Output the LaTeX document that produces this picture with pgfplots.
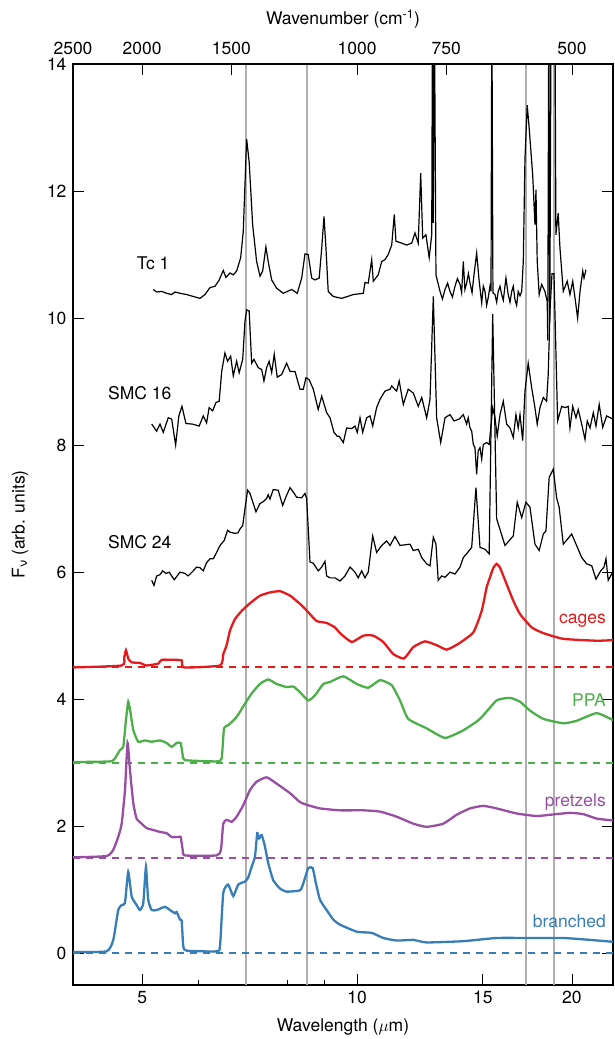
\documentclass[border=0pt]{standalone}
\usepackage{fontspec}
\setmainfont{TeX Gyre Heros}
\usepackage{pgfplots}
\pgfplotsset{compat=1.18}
\definecolor{cred}{RGB}{228,26,28}
\definecolor{cgreen}{RGB}{77,175,74}
\definecolor{cpurple}{RGB}{152,78,163}
\definecolor{cblue}{RGB}{55,126,184}
\definecolor{cgray}{RGB}{175,175,175}
\begin{document}
\begin{tikzpicture}[font=\fontsize{17.5}{21}\selectfont]
\begin{axis}[name=main, at={(0,0)}, anchor=south west,
  scale only axis, width=540pt, height=921pt,
  xmode=log, xmin=4, xmax=22.83, ymin=-0.5, ymax=14,
  xtick={5,10,15,20}, xticklabels={5,10,15,20}, minor xtick={6,7,8,9},
  xtick pos=left, ytick={0,2,4,6,8,10,12,14}, ytick pos=both, yticklabel pos=left,
  tick align=inside, major tick length=11pt, minor tick length=5pt,
  tick style={black, line width=0.9pt},
  axis line style={line width=1.1pt},
  /pgf/number format/assume math mode=true,
  xticklabel style={yshift=-3pt}, yticklabel style={xshift=-3pt},
  xlabel={Wavelength ($\mu$m)},
  ylabel={F\textsubscript{ν} (arb. units)},
  xlabel style={at={([yshift=-42pt]axis description cs:0.5,0)}, anchor=center},
  ylabel style={at={([xshift=-53pt]axis description cs:0,0.5)}, anchor=center},
  clip=true]
% grey C60 lines
\addplot[cgray, line width=2pt] coordinates {(7.0,-0.5) (7.0,14)};
\addplot[cgray, line width=2pt] coordinates {(8.5,-0.5) (8.5,14)};
\addplot[cgray, line width=2pt] coordinates {(17.25,-0.5) (17.25,14)};
\addplot[cgray, line width=2pt] coordinates {(18.85,-0.5) (18.85,14)};
% baselines
\addplot[cred, line width=2pt, dash pattern=on 7pt off 6pt] coordinates {(4,4.5) (22.83,4.5)};
\addplot[cgreen, line width=2pt, dash pattern=on 7pt off 6pt] coordinates {(4,3) (22.83,3)};
\addplot[cpurple, line width=2pt, dash pattern=on 7pt off 6pt] coordinates {(4,1.5) (22.83,1.5)};
\addplot[cblue, line width=2pt, dash pattern=on 7pt off 6pt] coordinates {(4,0) (22.83,0)};
% branched
\addplot[cblue, line width=2.3pt, smooth, tension=0.3] coordinates {
(4.000,0.02) (4.458,0.03) (4.555,0.21) (4.628,0.68) (4.680,0.76) (4.730,0.79) (4.780,1.28) (4.834,0.89) (4.911,0.76) (4.965,0.68) (5.018,0.79) (5.061,1.36) (5.098,0.84) (5.156,0.68) (5.239,0.68) (5.381,0.73) (5.469,0.68) (5.558,0.63) (5.588,0.65) (5.649,0.53) (5.680,0.51) (5.709,0.11) (5.771,0.04) (6.357,0.03) (6.427,0.11) (6.495,0.95) (6.599,1.08) (6.708,0.90) (6.815,1.08) (6.966,1.13) (7.039,1.19) (7.118,1.36) (7.194,1.52) (7.247,1.89) (7.292,1.81) (7.352,1.86) (7.430,1.68) (7.508,1.42) (7.632,1.15) (7.799,1.02) (7.968,0.97) (8.319,0.99) (8.407,1.10) (8.542,1.34) (8.666,1.34) (8.758,1.10) (8.873,0.84) (9.065,0.68) (9.261,0.53) (9.464,0.45) (9.986,0.34) (10.483,0.32) (10.882,0.24) (11.361,0.20) (11.988,0.21) (12.516,0.17) (14.086,0.19) (15.686,0.24) (17.468,0.24) (19.448,0.24) (21.198,0.21) (22.83,0.18)};
% pretzels
\addplot[cpurple, line width=2.3pt, smooth, tension=0.3] coordinates {
(4.000,1.51) (4.458,1.53) (4.555,1.63) (4.628,1.83) (4.680,2.04) (4.730,2.57) (4.770,3.31) (4.807,2.88) (4.859,2.36) (4.911,2.12) (4.992,2.04) (5.072,1.97) (5.182,1.94) (5.296,1.91) (5.410,1.89) (5.499,1.83) (5.616,1.83) (5.661,1.83) (5.698,1.63) (5.740,1.54) (6.357,1.54) (6.447,1.63) (6.495,2.04) (6.566,2.10) (6.674,2.07) (6.781,2.15) (6.928,2.33) (7.080,2.57) (7.233,2.70) (7.470,2.77) (7.715,2.67) (8.055,2.52) (8.319,2.38) (8.542,2.33) (8.873,2.28) (9.464,2.25) (10.203,2.25) (10.768,2.23) (11.361,2.15) (11.988,2.04) (12.516,1.99) (13.206,2.04) (13.787,2.18) (14.395,2.28) (15.025,2.32) (15.686,2.28) (16.731,2.20) (17.846,2.16) (18.632,2.18) (19.874,2.21) (20.744,2.19) (21.657,2.12) (22.83,2.09)};
% PPA
\addplot[cgreen, line width=2.3pt, smooth, tension=0.3] coordinates {
(4.000,3.01) (4.507,3.02) (4.580,3.07) (4.655,3.20) (4.704,3.25) (4.740,3.62) (4.780,3.96) (4.818,3.77) (4.859,3.51) (4.936,3.33) (5.045,3.35) (5.156,3.33) (5.296,3.35) (5.410,3.31) (5.499,3.25) (5.588,3.31) (5.661,3.31) (5.698,3.12) (5.740,3.04) (6.357,3.02) (6.462,3.07) (6.510,3.54) (6.599,3.59) (6.781,3.72) (6.966,3.93) (7.118,4.09) (7.312,4.24) (7.508,4.31) (7.715,4.24) (7.968,4.19) (8.140,4.20) (8.319,4.11) (8.542,3.98) (8.730,4.06) (8.968,4.24) (9.164,4.27) (9.565,4.36) (9.986,4.24) (10.366,4.18) (10.768,4.30) (11.182,4.22) (11.485,3.98) (11.793,3.69) (12.516,3.54) (13.278,3.39) (14.086,3.51) (14.866,3.69) (15.686,3.98) (16.377,4.02) (16.914,3.96) (17.468,3.82) (18.233,3.69) (19.448,3.62) (20.304,3.66) (21.657,3.78) (22.83,3.67)};
% cages
\addplot[cred, line width=2.3pt, smooth, tension=0.3] coordinates {
(4.000,4.50) (4.680,4.53) (4.719,4.66) (4.745,4.77) (4.780,4.64) (4.834,4.58) (4.965,4.57) (5.072,4.53) (5.265,4.56) (5.325,4.62) (5.528,4.62) (5.680,4.61) (5.722,4.50) (6.427,4.53) (6.495,4.71) (6.566,4.85) (6.637,5.08) (6.745,5.26) (6.893,5.39) (7.080,5.51) (7.312,5.63) (7.551,5.68) (7.799,5.70) (8.055,5.63) (8.319,5.50) (8.542,5.37) (8.777,5.23) (9.065,5.20) (9.312,5.13) (9.464,5.04) (9.828,4.90) (10.203,5.00) (10.537,5.00) (10.882,4.90) (11.239,4.71) (11.634,4.64) (11.988,4.82) (12.448,4.91) (12.926,4.85) (13.350,4.78) (13.857,4.87) (14.548,5.05) (14.948,5.39) (15.188,5.76) (15.354,5.92) (15.524,6.07) (15.686,6.13) (15.857,6.07) (16.200,5.81) (16.551,5.55) (16.914,5.34) (17.564,5.13) (18.233,5.04) (19.448,4.95) (21.657,4.92) (22.83,4.93)};
% SMC 24
\addplot[black, line width=1.2pt] coordinates {
(5.156,5.87) (5.194,5.79) (5.239,5.94) (5.296,5.96) (5.342,6.02) (5.398,5.98) (5.455,6.00) (5.499,5.94) (5.545,5.88) (5.649,6.00) (5.740,5.98) (5.800,5.94) (5.896,6.02) (5.960,6.08) (6.025,6.07) (6.089,6.02) (6.155,6.15) (6.223,6.21) (6.289,6.21) (6.357,6.31) (6.427,6.42) (6.516,6.50) (6.586,6.66) (6.637,6.63) (6.745,6.61) (6.815,6.62) (6.855,6.68) (6.915,6.73) (6.966,7.00) (7.025,7.29) (7.080,7.24) (7.155,7.08) (7.217,6.95) (7.312,7.08) (7.390,7.11) (7.470,7.16) (7.508,7.22) (7.551,7.15) (7.632,7.30) (7.754,7.29) (7.867,7.05) (7.968,7.21) (8.055,7.33) (8.140,7.26) (8.229,7.18) (8.364,7.17) (8.453,7.24) (8.499,7.16) (8.591,6.16) (8.683,6.14) (8.822,6.02) (8.922,6.08) (9.016,6.17) (9.065,5.94) (9.164,5.91) (9.312,5.91) (9.464,5.86) (9.617,5.94) (9.775,6.08) (9.932,6.00) (10.037,5.91) (10.150,6.02) (10.258,5.91) (10.366,6.00) (10.517,6.57) (10.651,6.31) (10.827,6.42) (11.001,6.49) (11.121,6.42) (11.300,6.56) (11.485,6.42) (11.671,6.43) (11.862,6.44) (11.988,6.34) (12.180,6.36) (12.318,6.23) (12.516,6.13) (12.652,6.10) (12.787,6.55) (12.897,6.44) (12.991,5.87) (13.139,5.94) (13.278,5.92) (13.495,6.00) (13.713,5.97) (13.938,6.08) (14.086,6.23) (14.239,6.29) (14.474,6.39) (14.673,7.33) (14.866,6.39) (15.107,6.36) (15.313,6.29) (15.488,10.06) (15.686,6.84) (16.113,6.42) (16.551,6.57) (16.763,7.10) (17.007,6.86) (17.242,7.10) (17.468,7.02) (17.750,6.44) (17.993,6.34) (18.233,6.60) (18.391,6.65) (18.583,7.49) (18.831,7.62) (19.036,7.17) (19.192,7.02) (19.448,6.44) (19.983,6.60) (20.638,6.23) (20.970,6.13) (21.315,6.10) (21.609,5.89) (21.943,6.02) (22.176,6.08) (22.318,6.21) (22.480,5.87) (22.808,6.00)};
% SMC 16
\addplot[black, line width=1.2pt] coordinates {
(5.156,8.33) (5.239,8.22) (5.296,8.33) (5.352,8.20) (5.438,8.43) (5.499,8.41) (5.570,8.00) (5.628,8.46) (5.685,8.61) (5.758,8.34) (5.885,8.33) (6.009,8.30) (6.089,8.46) (6.155,8.35) (6.206,8.59) (6.277,8.54) (6.343,8.67) (6.410,8.69) (6.462,9.16) (6.530,9.45) (6.586,9.32) (6.652,9.40) (6.708,9.09) (6.781,9.32) (6.837,9.14) (6.915,9.35) (6.966,9.95) (7.003,10.13) (7.061,10.11) (7.118,9.29) (7.171,9.35) (7.269,9.22) (7.352,9.19) (7.406,9.01) (7.470,9.22) (7.531,9.32) (7.593,9.14) (7.656,9.43) (7.729,9.07) (7.842,9.11) (7.968,9.29) (8.055,9.16) (8.185,9.16) (8.319,8.88) (8.407,8.88) (8.480,9.06) (8.568,9.03) (8.683,8.88) (8.822,8.56) (8.922,8.77) (9.065,8.51) (9.164,8.43) (9.282,8.20) (9.380,8.14) (9.439,8.14) (9.565,8.04) (9.669,8.27) (9.828,8.26) (9.932,8.30) (10.005,8.20) (10.095,8.43) (10.183,8.20) (10.313,8.43) (10.426,8.46) (10.517,8.30) (10.651,8.59) (10.768,8.72) (10.941,8.85) (11.121,8.88) (11.182,8.93) (11.361,8.85) (11.455,9.01) (11.608,8.64) (11.793,8.88) (11.988,8.82) (12.180,8.61) (12.318,8.75) (12.516,8.43) (12.652,8.72) (12.787,10.34) (12.926,8.43) (13.096,8.04) (13.278,8.43) (13.495,8.48) (13.670,8.38) (13.901,8.41) (14.086,8.48) (14.239,8.33) (14.311,8.43) (14.395,8.27) (14.474,8.22) (14.548,8.01) (14.627,7.96) (14.706,7.54) (14.780,7.91) (14.866,7.96) (14.948,7.78) (15.025,8.01) (15.188,8.04) (15.313,8.01) (15.488,8.59) (15.602,8.43) (15.716,8.14) (15.857,8.48) (16.026,8.69) (16.200,8.33) (16.377,8.27) (16.551,8.12) (16.694,8.48) (16.816,8.27) (16.914,8.48) (17.061,8.07) (17.187,8.85) (17.367,9.29) (17.564,8.90) (17.750,8.59) (17.880,8.33) (18.041,8.59) (18.233,8.75) (18.431,8.69) (18.525,9.11) (18.632,10.11) (18.753,10.7) (18.873,10.7) (19.096,8.38) (19.349,8.61) (19.554,8.59) (19.759,8.61) (19.874,8.27) (20.047,8.61) (20.259,8.43) (20.407,8.56) (20.638,8.33) (20.857,8.09) (21.010,8.38) (21.198,8.27) (21.424,8.51) (21.609,8.30) (21.835,8.64) (22.084,8.28) (22.367,8.46) (22.808,8.41)};
% Tc 1
\addplot[black, line width=1.2pt] coordinates {
(5.182,10.45) (5.239,10.41) (5.325,10.42) (5.410,10.39) (5.499,10.37) (5.558,10.41) (5.649,10.39) (5.771,10.37) (5.896,10.34) (6.025,10.31) (6.122,10.37) (6.223,10.48) (6.323,10.50) (6.410,10.60) (6.495,10.75) (6.551,10.64) (6.637,10.71) (6.708,10.68) (6.781,10.74) (6.870,10.95) (6.928,11.36) (7.003,12.82) (7.061,12.46) (7.141,11.47) (7.233,10.89) (7.312,10.66) (7.375,10.74) (7.453,11.12) (7.508,10.89) (7.593,10.60) (7.715,10.47) (7.882,10.39) (8.099,10.45) (8.245,10.39) (8.364,10.63) (8.453,11.01) (8.542,11.00) (8.638,10.63) (8.730,10.60) (8.849,10.63) (8.922,11.10) (8.988,11.60) (9.045,11.10) (9.111,10.42) (9.261,10.34) (9.516,10.31) (9.879,10.37) (10.203,10.39) (10.258,10.56) (10.366,10.55) (10.483,10.92) (10.537,10.58) (10.705,10.68) (10.827,10.89) (10.941,10.92) (11.056,11.00) (11.182,11.15) (11.275,11.63) (11.336,11.21) (11.548,11.18) (11.734,11.15) (11.927,11.18) (12.053,11.34) (12.180,11.18) (12.278,12.28) (12.357,11.26) (12.488,11.31) (12.618,10.95) (12.722,11.31) (12.755,15) (12.785,11.5) (12.83,15) (12.897,10.68) (13.067,10.42) (13.17,10.30) (13.278,10.45) (13.39,10.55) (13.495,10.42) (13.60,10.33) (13.713,10.50) (13.82,10.62) (13.938,10.53) (14.01,10.40) (14.086,10.89) (14.16,10.45) (14.239,10.55) (14.32,10.70) (14.395,10.55) (14.49,10.40) (14.580,10.68) (14.706,11.02) (14.827,10.58) (14.948,10.24) (15.025,10.50) (15.107,10.42) (15.188,10.20) (15.265,10.32) (15.354,10.50) (15.403,10.42) (15.445,15) (15.50,10.40) (15.602,10.37) (15.686,10.25) (15.765,10.42) (15.857,10.50) (15.944,10.37) (16.026,10.28) (16.164,10.63) (16.282,10.37) (16.377,10.25) (16.467,10.42) (16.551,10.50) (16.641,10.29) (16.731,10.20) (16.816,10.42) (16.914,10.35) (17.007,10.42) (17.094,10.89) (17.187,12.51) (17.313,13.35) (17.422,12.99) (17.621,12.25) (17.750,11.47) (17.807,12.02) (17.880,10.89) (17.993,10.37) (18.140,10.53) (18.332,10.42) (18.466,10.26) (18.50,9.65) (18.56,15) (18.62,9.95) (18.70,15) (18.93,15) (18.99,11.31) (19.132,11.65) (19.243,11.10) (19.448,10.42) (19.697,10.58) (19.874,10.37) (20.047,10.58) (20.195,10.32) (20.368,10.00) (20.526,10.42) (20.705,10.74) (20.791,10.63) (20.923,10.76)};
% labels
\node at (axis cs:5.18,10.86) {Tc 1};
\node at (axis cs:4.96,8.82) {SMC 16};
\node at (axis cs:4.96,6.48) {SMC 24};
\node[anchor=east, text=cred] at (axis cs:22.56,5.24) {cages};
\node[anchor=east, text=cgreen] at (axis cs:22.56,3.98) {PPA};
\node[anchor=east, text=cpurple] at (axis cs:22.56,2.38) {pretzels};
\node[anchor=east, text=cblue] at (axis cs:22.56,0.50) {branched};
\end{axis}
\begin{axis}[at={(0,0)}, anchor=south west,
  scale only axis, width=540pt, height=921pt,
  xmode=log, xmin=4, xmax=22.83, ymin=-0.5, ymax=14,
  axis x line*=top, axis y line=none,
  xtick={4,5,6.6667,10,13.3333,20}, xticklabels={2500,2000,1500,1000,750,500},
  tick align=inside, major tick length=11pt,
  tick style={black, line width=0.9pt},
  axis line style={line width=1.1pt},
  xticklabel style={yshift=6pt},
  xlabel={Wavenumber (cm\textsuperscript{-1})},
  xlabel style={at={([yshift=45pt]axis description cs:0.5,1)}, anchor=center}]
\end{axis}
\pgfresetboundingbox
\useasboundingbox ([xshift=-73pt,yshift=-54pt]main.south west) rectangle ([xshift=1pt,yshift=64pt]main.north east);
\end{tikzpicture}
\end{document}
